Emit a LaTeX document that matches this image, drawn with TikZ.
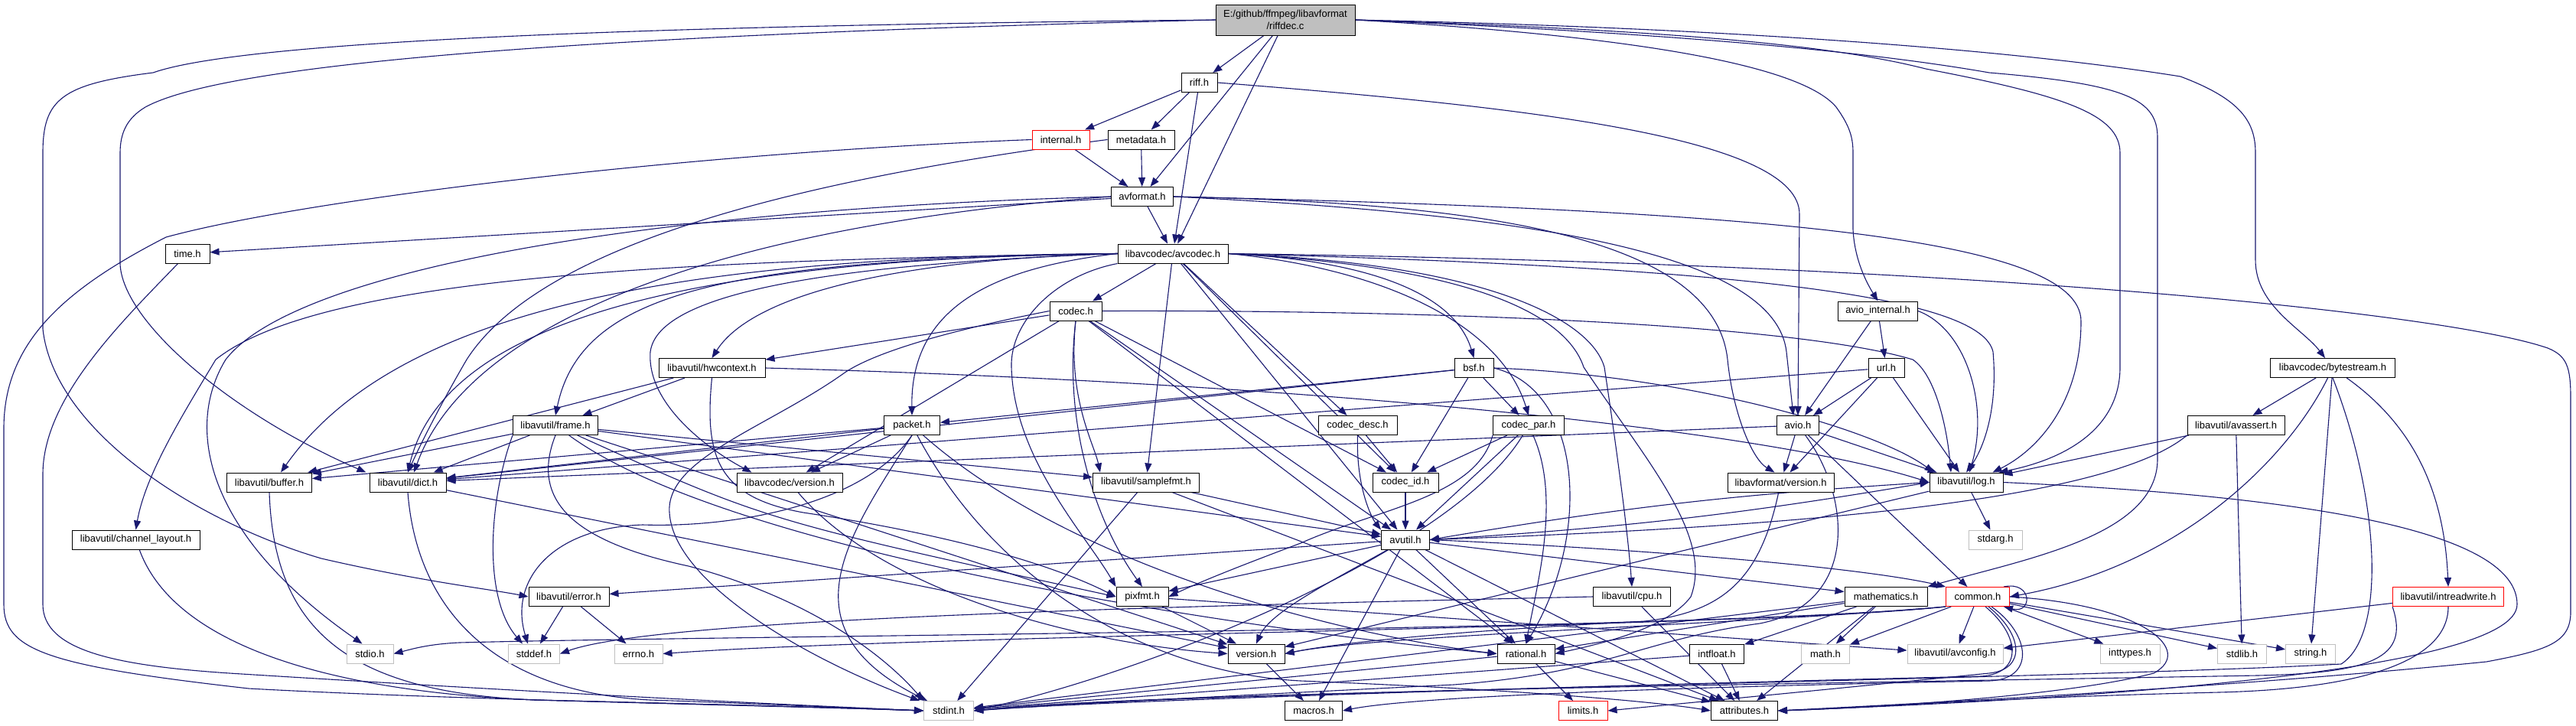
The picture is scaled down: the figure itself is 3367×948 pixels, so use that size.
\documentclass[tikz,border=0pt]{standalone}
\usepackage{fontspec}
\setmainfont{Liberation Sans}
\usetikzlibrary{arrows.meta}
\pgfdeclarelayer{back}
\pgfdeclarelayer{edges}
\pgfsetlayers{back,edges,main}
\definecolor{edgeblue}{HTML}{191970}
\definecolor{sysgray}{HTML}{BFBFBF}
\definecolor{truncred}{HTML}{FF0000}
\definecolor{rootfill}{HTML}{BFBFBF}
\tikzset{
  hdr/.style={draw=black, line width=1pt, fill=white, rectangle, minimum height=25pt, inner sep=0pt, font=\fontsize{13}{15}\selectfont},
  sys/.style={hdr, draw=sysgray},
  trn/.style={hdr, draw=truncred},
  dep/.style={draw=edgeblue, line width=1.1pt, -{Triangle[length=12pt,width=9pt]}},
}
\begin{document}
\begin{tikzpicture}[x=1pt,y=-1pt]
\useasboundingbox (0,0) rectangle (3367,948);
\begin{pgfonlayer}{back}
\fill[white] (0,0) rectangle (3367,948);
\end{pgfonlayer}
% ---------------- nodes ----------------
\node[hdr, fill=rootfill, minimum width=182pt, minimum height=40pt, align=center, font=\fontsize{13}{15.5}\selectfont] (main) at (1680,26) {E:/github/ffmpeg/libavformat\\/riffdec.c};
\node[hdr, minimum width=47pt] (riff) at (1567.5,108) {riff.h};
\node[trn, minimum width=75pt] (internal) at (1386.5,182.5) {internal.h};
\node[hdr, minimum width=87pt] (metadata) at (1491.5,182.5) {metadata.h};
\node[hdr, minimum width=81pt] (avformat) at (1493,257) {avformat.h};
\node[hdr, minimum width=58pt] (time) at (245,331.5) {time.h};
\node[hdr, minimum width=144pt] (avcodec) at (1533,331.5) {libavcodec/avcodec.h};
\node[hdr, minimum width=68pt] (codec) at (1406,406.5) {codec.h};
\node[hdr, minimum width=104pt] (aviointernal) at (2454.5,406.5) {avio\_internal.h};
\node[hdr, minimum width=139pt] (hwcontext) at (930.5,481) {libavutil/hwcontext.h};
\node[hdr, minimum width=51pt] (bsf) at (1926.5,481) {bsf.h};
\node[hdr, minimum width=47pt] (url) at (2465.5,481) {url.h};
\node[hdr, minimum width=163pt] (bytestream) at (3049,481) {libavcodec/bytestream.h};
\node[hdr, minimum width=111pt] (frame) at (726,556) {libavutil/frame.h};
\node[hdr, minimum width=73pt] (packet) at (1192,556) {packet.h};
\node[hdr, minimum width=103pt] (codecdesc) at (1774.5,556) {codec\_desc.h};
\node[hdr, minimum width=93pt] (codecpar) at (1998,556) {codec\_par.h};
\node[hdr, minimum width=55pt] (avio) at (2350,556) {avio.h};
\node[hdr, minimum width=127pt] (avassert) at (2922.5,556) {libavutil/avassert.h};
\node[hdr, minimum width=111pt] (buffer) at (352,630.5) {libavutil/buffer.h};
\node[hdr, minimum width=100pt] (dict) at (533,630.5) {libavutil/dict.h};
\node[hdr, minimum width=138pt] (lcver) at (1032,630.5) {libavcodec/version.h};
\node[hdr, minimum width=139pt] (samplefmt) at (1498,630.5) {libavutil/samplefmt.h};
\node[hdr, minimum width=86pt] (codecid) at (1837,630.5) {codec\_id.h};
\node[hdr, minimum width=139pt] (lfver) at (2327.5,630.5) {libavformat/version.h};
\node[hdr, minimum width=96pt] (log) at (2570,630.5) {libavutil/log.h};
\node[hdr, minimum width=167pt] (chlayout) at (177.5,705.5) {libavutil/channel\_layout.h};
\node[hdr, minimum width=63pt] (avutil) at (1837,705.5) {avutil.h};
\node[sys, minimum width=70pt] (stdarg) at (2608,705.5) {stdarg.h};
\node[hdr, minimum width=105pt] (error) at (743.5,780) {libavutil/error.h};
\node[hdr, minimum width=68pt] (pixfmt) at (1493,780) {pixfmt.h};
\node[hdr, minimum width=101pt] (cpu) at (2133,780) {libavutil/cpu.h};
\node[hdr, minimum width=108pt] (mathematics) at (2465,780) {mathematics.h};
\node[trn, minimum width=83pt] (common) at (2585,780) {common.h};
\node[trn, minimum width=145pt] (intrw) at (3200,780) {libavutil/intreadwrite.h};
\node[sys, minimum width=61pt] (stdio) at (483.5,854.5) {stdio.h};
\node[sys, minimum width=67pt] (stddef) at (698,854.5) {stddef.h};
\node[sys, minimum width=63pt] (errno) at (834.5,854.5) {errno.h};
\node[hdr, minimum width=74pt] (version) at (1642,854.5) {version.h};
\node[hdr, minimum width=75pt] (rational) at (1994.5,854.5) {rational.h};
\node[hdr, minimum width=71pt] (intfloat) at (2244,854.5) {intfloat.h};
\node[sys, minimum width=63pt] (math) at (2386,854.5) {math.h};
\node[sys, minimum width=125pt] (avconfig) at (2555.5,854.5) {libavutil/avconfig.h};
\node[sys, minimum width=78pt] (inttypes) at (2784,854.5) {inttypes.h};
\node[sys, minimum width=64pt] (stdlib) at (2930.5,854.5) {stdlib.h};
\node[sys, minimum width=65pt] (string) at (3020,854.5) {string.h};
\node[sys, minimum width=65pt] (stdint) at (1240,929) {stdint.h};
\node[hdr, minimum width=75pt] (macros) at (1717,929) {macros.h};
\node[trn, minimum width=64pt] (limits) at (2069,929) {limits.h};
\node[hdr, minimum width=87pt] (attributes) at (2280,929) {attributes.h};
% ---------------- edges ----------------
\begin{pgfonlayer}{edges}
% main
\draw[dep] (main) -- (riff);
\draw[dep] (main) -- (avformat);
\draw[dep] (main) -- (avcodec);
\draw[dep] (main.west) .. controls (800,45) and (300,80) .. (190,140) .. controls (165,155) and (157,175) .. (157,200) -- (157,345) .. controls (160,420) and (300,540) .. ([xshift=-4pt]dict.north west);
\draw[dep] (main.west) .. controls (700,35) and (300,60) .. (200,95) .. controls (80,110) and (56,130) .. (56,200) -- (56,430) .. controls (70,560) and (250,680) .. (420,730) .. controls (550,760) and (640,770) .. (error.west);
\draw[dep] (main.east) .. controls (2200,40) and (2400,60) .. (2517,90) .. controls (2700,125) and (2771,150) .. (2771,200) -- (2771,480) .. controls (2771,560) and (2700,600) .. ([xshift=-6pt]log.north east);
\draw[dep] (main.east) .. controls (2100,40) and (2400,60) .. (2600,95) .. controls (2780,110) and (2820,130) .. (2820,180) -- (2820,600) .. controls (2820,700) and (2650,730) .. (mathematics.north east);
\draw[dep] (main.east) .. controls (2200,35) and (2600,60) .. (2850,100) .. controls (2930,130) and (2948,160) .. (2948,200) -- (2948,340) .. controls (2948,400) and (3010,430) .. ([xshift=-10pt]bytestream.north);
\draw[dep] (main.east) .. controls (2100,45) and (2350,80) .. (2400,140) .. controls (2418,165) and (2422,180) .. (2422,200) -- (2422,300) .. controls (2424,340) and (2440,370) .. (aviointernal.north);
% riff
\draw[dep] (riff) -- (internal);
\draw[dep] (riff) -- (metadata);
\draw[dep] (riff) -- (avcodec);
\draw[dep] (riff.east) .. controls (2000,140) and (2352,180) .. (2352,280) -- (avio.north);
% internal
\draw[dep] (internal) -- (avformat);
\draw[dep] (internal.west) .. controls (900,200) and (400,260) .. (217,310) .. controls (80,380) and (5,450) .. (5,560) -- (5,790) .. controls (5,850) and (60,870) .. (325,900) .. controls (600,915) and (1000,922) .. (stdint.west);
% metadata
\draw[dep] (metadata) -- (avformat);
\draw[dep] (metadata.west) .. controls (1000,240) and (700,330) .. (610,470) .. controls (575,530) and (550,580) .. (dict.north);
% avformat
\draw[dep] (avformat) -- (time);
\draw[dep] (avformat) -- (avcodec);
\draw[dep] (avformat.west) .. controls (800,275) and (380,360) .. (295,470) .. controls (240,560) and (270,700) .. ([xshift=-10pt]stdio.north);
\draw[dep] (avformat.west) .. controls (1000,290) and (620,400) .. ([xshift=8pt]dict.north);
\draw[dep] (avformat.east) .. controls (2300,275) and (2720,310) .. (2720,420) .. controls (2720,530) and (2660,590) .. ([xshift=-14pt]log.north east);
\draw[dep] (avformat.east) .. controls (2000,280) and (2320,330) .. (2335,460) -- ([xshift=-6pt]avio.north);
\draw[dep] (avformat.east) .. controls (1900,265) and (2240,300) .. (2258,470) .. controls (2265,540) and (2290,600) .. ([xshift=-8pt]lfver.north);
% avcodec
\draw[dep] (avcodec) -- (codec);
\draw[dep] (avcodec.west) .. controls (1300,350) and (1190,400) .. (packet.north);
\draw[dep] (avcodec.west) .. controls (1150,340) and (980,390) .. (hwcontext.north);
\draw[dep] (avcodec.west) .. controls (1100,345) and (860,380) .. (850,460) .. controls (845,530) and (930,590) .. ([xshift=20pt]lcver.north west);
\draw[dep] (avcodec.west) .. controls (950,340) and (760,380) .. (frame.north);
\draw[dep] (avcodec.west) .. controls (900,335) and (520,400) .. ([xshift=15pt]buffer.north);
\draw[dep] (avcodec.west) .. controls (900,338) and (580,420) .. (dict.north);
\draw[dep] (avcodec.west) .. controls (900,340) and (420,360) .. (282,470) .. controls (240,540) and (190,620) .. (chlayout.north);
\draw[dep] (avcodec) -- (samplefmt);
\draw[dep] (avcodec.south west) .. controls (1380,360) and (1320,420) .. (1322,480) .. controls (1325,600) and (1420,700) .. (pixfmt.north west);
\draw[dep] (avcodec) -- (avutil);
\draw[dep] (avcodec) -- (codecdesc);
\draw[dep] (avcodec) -- (codecid);
\draw[dep] (avcodec.east) .. controls (1800,350) and (1960,420) .. (codecpar.north);
\draw[dep] (avcodec.east) .. controls (1780,340) and (1900,380) .. (bsf.north);
\draw[dep] (avcodec.east) .. controls (1950,345) and (2080,420) .. (2097,480) .. controls (2115,600) and (2128,700) .. (cpu.north);
\draw[dep] (avcodec.east) .. controls (1950,350) and (2050,420) .. (2070,480) .. controls (2150,600) and (2240,700) .. (2210,780) .. controls (2180,820) and (2100,840) .. (rational.east);
\draw[dep] (avcodec.east) .. controls (2300,350) and (2590,390) .. (2605,460) .. controls (2612,540) and (2590,590) .. (log.north);
\draw[dep] (avcodec.east) .. controls (2600,345) and (3200,410) .. (3330,455) .. controls (3355,465) and (3360,480) .. (3360,520) -- (3360,800) .. controls (3360,840) and (3330,850) .. (3250,865) .. controls (2900,900) and (2500,920) .. (attributes.east);
% codec
\draw[dep] (codec) -- (hwcontext);
\draw[dep] (codec.east) .. controls (1900,405) and (2350,425) .. (2500,470) .. controls (2530,490) and (2545,560) .. ([xshift=-20pt]log.north);
\draw[dep] (codec.west) .. controls (1250,430) and (1140,460) .. (1100,490) .. controls (1000,560) and (870,600) .. (875,670) .. controls (880,760) and (1050,860) .. ([xshift=-5pt]stdint.north west);
\draw[dep] (codec) -- (avutil);
\draw[dep] (codec.south) .. controls (1390,550) and (1430,680) .. (pixfmt.north);
\draw[dep] (codec.south) .. controls (1395,520) and (1430,580) .. ([xshift=10pt]samplefmt.north west);
\draw[dep] (codec) -- (rational);
\draw[dep] (codec) -- (codecid);
\draw[dep] (codec) -- (lcver);
% hwcontext
\draw[dep] (hwcontext) -- (frame);
\draw[dep] (hwcontext) -- (buffer);
\draw[dep] (hwcontext.east) .. controls (1700,500) and (2300,560) .. (log.west);
\draw[dep] (hwcontext.south) .. controls (920,600) and (940,650) .. (1050,670) .. controls (1250,700) and (1380,740) .. (pixfmt.west);
% bsf
\draw[dep] (bsf) -- (packet);
\draw[dep] (bsf) -- (dict);
\draw[dep] (bsf.east) .. controls (2200,490) and (2450,560) .. ([xshift=6pt]log.north west);
\draw[dep] (bsf.east) .. controls (2070,510) and (2080,700) .. (rational.north);
\draw[dep] (bsf) -- (codecid);
\draw[dep] (bsf) -- (codecpar);
% avio_internal
\draw[dep] (aviointernal) -- (url);
\draw[dep] (aviointernal) -- (avio);
\draw[dep] (aviointernal.east) .. controls (2570,430) and (2600,530) .. ([xshift=4pt]log.north);
% url
\draw[dep] (url) -- (avio);
\draw[dep] (url) -- (lfver);
\draw[dep] (url) -- (dict);
\draw[dep] (url) -- (log);
% bytestream
\draw[dep] (bytestream) -- (avassert);
\draw[dep] (bytestream) .. controls (2990,600) and (2850,740) .. (common.east);
\draw[dep] (bytestream) -- (string);
\draw[dep] (bytestream.south) .. controls (3110,650) and (3120,830) .. (3060,868) .. controls (2700,888) and (1500,905) .. (stdint.east);
\draw[dep] (bytestream) .. controls (3160,560) and (3195,650) .. (intrw.north);
% frame
\draw[dep] (frame.south west) .. controls (640,650) and (630,780) .. ([xshift=-15pt]stddef.north);
\draw[dep] (frame.south) .. controls (690,660) and (760,710) .. (900,740) .. controls (1050,780) and (1150,850) .. (stdint.north west);
\draw[dep] (frame) -- (avutil);
\draw[dep] (frame) -- (buffer);
\draw[dep] (frame) -- (dict);
\draw[dep] (frame) .. controls (950,720) and (1600,820) .. (rational.west);
\draw[dep] (frame) -- (samplefmt);
\draw[dep] (frame) .. controls (1000,680) .. (pixfmt.west);
\draw[dep] (frame) -- (version);
% packet
\draw[dep] (packet) -- (lcver);
\draw[dep] (packet) -- (buffer);
\draw[dep] (packet) -- (dict);
\draw[dep] (packet.south) .. controls (1130,660) and (960,690) .. (840,686) .. controls (720,690) and (665,760) .. ([xshift=-8pt]stddef.north);
\draw[dep] (packet.south) .. controls (1110,700) and (1020,820) .. ([xshift=5pt]stdint.north west);
\draw[dep] (packet) .. controls (1300,760) and (1500,880) .. (1700,890) .. controls (1950,900) and (2150,915) .. (attributes.west);
\draw[dep] (packet) .. controls (1400,740) and (1750,830) .. (rational.west);
% codec_desc
\draw[dep] (codecdesc.south) .. controls (1772,640) and (1795,680) .. (avutil.north west);
\draw[dep] (codecdesc) -- (codecid);
% codec_par
\draw[dep] (codecpar) -- (codecid);
\draw[dep] (codecpar) -- (avutil);
\draw[dep] (codecpar) .. controls (2040,650) and (2010,760) .. (rational.north);
\draw[dep] (codecpar.south west) .. controls (1930,650) and (1800,665) .. (1700,710) .. controls (1620,740) and (1570,760) .. (pixfmt.east);
\draw[dep] (codecpar) .. controls (1900,720) and (1500,880) .. (stdint.east);
% avio
\draw[dep] (avio) -- (lfver);
\draw[dep] (avio) -- (log);
\draw[dep] (avio) -- (common);
\draw[dep] (avio) -- (dict);
\draw[dep] (avio) .. controls (2420,650) and (2430,790) .. (2300,815) .. controls (2150,835) and (2100,880) .. (1900,895) .. controls (1600,910) and (1400,920) .. (stdint.east);
% avassert
\draw[dep] (avassert) -- (stdlib);
\draw[dep] (avassert) -- (log);
\draw[dep] (avassert.south west) .. controls (2750,660) and (2300,690) .. (avutil.east);
% buffer, dict
\draw[dep] (buffer.south) .. controls (358,820) and (450,905) .. (700,915) .. controls (900,920) and (1100,925) .. (stdint.west);
\draw[dep] (dict.south) .. controls (545,800) and (650,905) .. (850,915) .. controls (1000,920) and (1100,925) .. (stdint.west);
\draw[dep] (dict) -- (version);
% versions
\draw[dep] (lcver) .. controls (1150,770) and (1400,840) .. (version.west);
\draw[dep] (lfver) .. controls (2300,760) and (2250,800) .. (2150,812) .. controls (1900,825) and (1750,840) .. (version.east);
% samplefmt
\draw[dep] (samplefmt) -- (stdint);
\draw[dep] (samplefmt) -- (avutil);
\draw[dep] (samplefmt) -- (attributes);
\draw[dep] (codecid) -- (avutil);
% log
\draw[dep] (log) -- (stdarg);
\draw[dep] (log.west) to[bend right=3] (avutil.east);
\draw[dep] (avutil.east) to[bend right=3] (log.west);
\draw[dep] (log.east) .. controls (3050,650) and (3290,700) .. (3290,790) .. controls (3290,880) and (2700,915) .. (attributes.east);
\draw[dep] (log) -- (version);
% channel_layout, time
\draw[dep] (chlayout) .. controls (230,850) and (450,905) .. (700,915) .. controls (900,920) and (1100,925) .. (stdint.west);
\draw[dep] (time) .. controls (160,420) and (56,520) .. (56,620) -- (56,790) .. controls (56,850) and (150,870) .. (300,880) .. controls (700,905) and (1000,920) .. (stdint.west);
% avutil
\draw[dep] (avutil) -- (attributes);
\draw[dep] (avutil) -- (macros);
\draw[dep] (avutil) .. controls (1740,760) and (1660,800) .. (version.north);
\draw[dep] (avutil.east) .. controls (2200,720) and (2450,745) .. (common.north west);
\draw[dep] (avutil) -- (error);
\draw[dep] (avutil) -- (rational);
\draw[dep] (avutil) -- (mathematics);
\draw[dep] (avutil) -- (pixfmt);
% error, pixfmt, cpu
\draw[dep] (error) -- (errno);
\draw[dep] (error) -- (stddef);
\draw[dep] (pixfmt) -- (avconfig);
\draw[dep] (pixfmt) -- (version);
\draw[dep] (cpu.west) .. controls (1400,795) and (850,812) .. (stddef.east);
\draw[dep] (cpu) -- (attributes);
% mathematics
\draw[dep] (mathematics) -- (stdint);
\draw[dep] (mathematics) -- (math);
\draw[dep] (mathematics) -- (attributes);
\draw[dep] (mathematics) -- (rational);
\draw[dep] (mathematics) -- (intfloat);
% common
\draw[dep] (common.south west) .. controls (2300,820) and (1200,830) .. (errno.east);
\draw[dep] (common.south west) .. controls (2200,825) and (1000,830) .. (600,840) .. controls (560,842) and (540,848) .. (stdio.east);
\draw[dep] (common) -- (inttypes);
\draw[dep] (common) -- (stdlib);
\draw[dep] (common) -- (string);
\draw[dep] (common) -- (math);
\draw[dep] (common) -- (avconfig);
\draw[dep] ([xshift=14pt]common.south) .. controls (2645,830) and (2648,875) .. (2600,880) .. controls (2450,895) and (2350,905) .. (limits.east);
\draw[dep] ([xshift=10pt]common.south) .. controls (2640,830) and (2645,880) .. (2590,884) .. controls (2200,893) and (1450,915) .. (stdint.east);
\draw[dep] ([xshift=18pt]common.south) .. controls (2655,830) and (2660,888) .. (2600,890) .. controls (2200,898) and (1850,910) .. (macros.east);
\draw[dep] (common.south west) .. controls (2300,815) and (1800,830) .. (version.east);
\draw[dep] (common.east) .. controls (2800,790) and (2870,850) .. (2815,880) .. controls (2700,910) and (2450,925) .. (attributes.east);
\draw[dep] ([xshift=-8pt]common.north east) .. controls +(38,-8) and +(38,10) .. ([xshift=-8pt]common.south east);
% intreadwrite
\draw[dep] (intrw) -- (avconfig);
\draw[dep] (intrw.south west) .. controls (3150,860) and (3100,880) .. (2950,883) .. controls (2400,893) and (1500,905) .. (stdint.east);
\draw[dep] (intrw.south) .. controls (3200,860) and (3100,900) .. (2900,905) .. controls (2600,912) and (2450,925) .. (attributes.east);
% leaves
\draw[dep] (version) -- (macros);
\draw[dep] (rational) -- (stdint);
\draw[dep] (rational) -- (limits);
\draw[dep] (rational) -- (attributes);
\draw[dep] (intfloat) -- (stdint);
\draw[dep] (intfloat) -- (attributes);
\end{pgfonlayer}
\end{tikzpicture}
\end{document}
